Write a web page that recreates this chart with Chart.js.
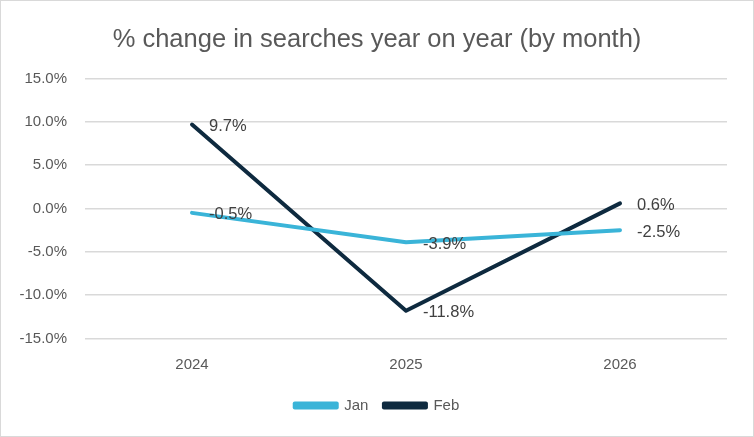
<!DOCTYPE html>
<html>
<head>
<meta charset="utf-8">
<script src="https://cdn.jsdelivr.net/npm/chart.js@4"></script>
<style>
  html, body { margin: 0; padding: 0; background: #fff; }
  #wrap {
    width: 754px; height: 437px; box-sizing: border-box;
    border: 1px solid #d9d9d9; background: #fff;
  }
</style>
</head>
<body>
<div id="wrap"><canvas id="chart"></canvas></div>
<script>
// Données
const years = ["2024", "2025", "2026"];
const janValues = [-0.5, -3.9, -2.5];
const febValues = [9.7, -11.8, 0.6];
const yTicks = [-15, -10, -5, 0, 5, 10, 15];

const font = "'Liberation Sans', Arial, sans-serif";

// Étiquettes de données à droite de chaque point
const dataLabels = {
  id: "dataLabels",
  afterDatasetsDraw(chart) {
    const ctx = chart.ctx;
    ctx.save();
    ctx.font = "16.5px " + font;
    ctx.fillStyle = "#404040";
    ctx.textAlign = "left";
    ctx.textBaseline = "middle";
    chart.data.datasets.forEach((ds, i) => {
      const meta = chart.getDatasetMeta(i);
      meta.data.forEach((pt, j) => {
        ctx.fillText(ds.data[j].toFixed(1) + "%", pt.x + 17, pt.y + 2);
      });
    });
    ctx.restore();
  },
};

new Chart(document.getElementById("chart").getContext("2d"), {
  type: "line",
  data: {
    labels: years,
    datasets: [
      {
        label: "Jan",
        data: janValues,
        borderColor: "#3ab4d8",
        backgroundColor: "#3ab4d8",
        borderWidth: 4,
        borderCapStyle: "round",
        borderJoinStyle: "round",
        pointRadius: 0,
        tension: 0,
      },
      {
        label: "Feb",
        data: febValues,
        borderColor: "#0e2a3f",
        backgroundColor: "#0e2a3f",
        borderWidth: 4,
        borderCapStyle: "round",
        borderJoinStyle: "round",
        pointRadius: 0,
        tension: 0,
      },
    ],
  },
  options: {
    responsive: true,
    maintainAspectRatio: false,
    animation: false,
    layout: { padding: { left: 0, right: 0, top: 0, bottom: 13 } },
    scales: {
      x: {
        offset: true,
        grid: { display: false },
        border: { display: false },
        ticks: { color: "#595959", font: { size: 15, family: font }, padding: 9 },
      },
      y: {
        min: -15,
        max: 15,
        afterBuildTicks: (scale) => {
          scale.ticks = yTicks.map((v) => ({ value: v }));
        },
        afterFit: (scale) => {
          scale.width = 84;
        },
        grid: { color: "#d9d9d9", lineWidth: 1.5, drawTicks: false },
        border: { display: false },
        ticks: {
          color: "#595959",
          font: { size: 15, family: font },
          padding: 18,
          callback: (v) => v.toFixed(1) + "%",
        },
      },
      // axe vide à droite pour la marge
      yRight: {
        position: "right",
        grid: { display: false },
        border: { display: false },
        ticks: { display: false },
        afterFit: (scale) => {
          scale.width = 26;
        },
      },
    },
    plugins: {
      title: {
        display: true,
        text: "% change in searches year on year (by month)",
        color: "#595959",
        font: { size: 25.5, family: font, weight: "normal" },
        padding: { top: 24, bottom: 23 },
      },
      legend: {
        position: "bottom",
        labels: {
          color: "#595959",
          font: { size: 15, family: font },
          boxWidth: 42,
          boxHeight: 4,
          padding: 15.5,
        },
      },
      tooltip: { enabled: false },
    },
  },
  plugins: [dataLabels],
});
</script>
</body>
</html>
